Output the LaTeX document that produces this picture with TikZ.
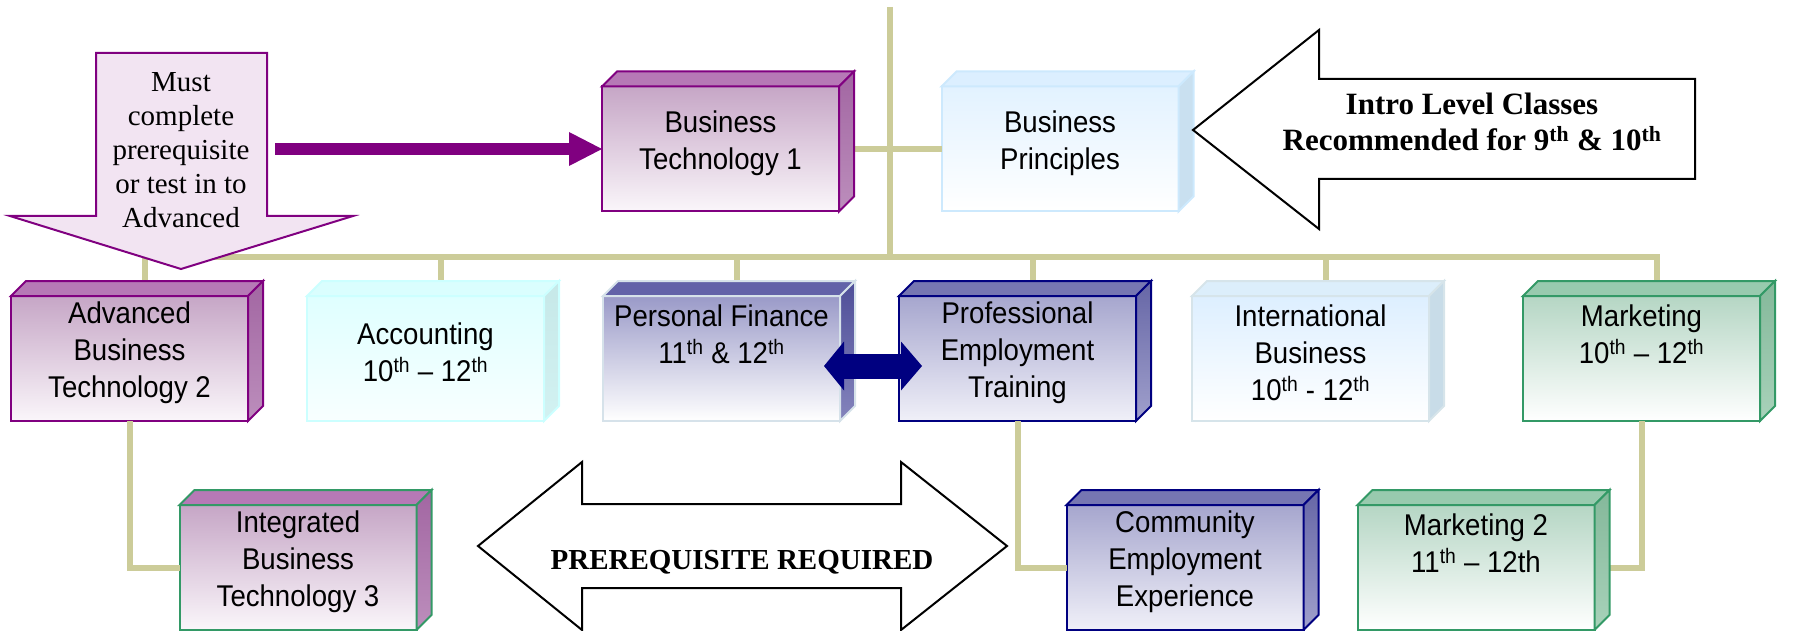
\documentclass[tikz,border=0pt]{standalone}
\usepackage{fontspec}
\usepackage{xcolor}
\usepackage{tikz}
\usetikzlibrary{arrows.meta}

\newfontfamily\cubefont[FakeStretch=0.92]{Liberation Sans}
\newfontfamily\notefont{Liberation Serif}

\definecolor{trunkline}{HTML}{CCCC99}
\definecolor{plumedge}{HTML}{800080}
\definecolor{plumfront}{HTML}{C6A6C6}
\definecolor{plumback}{HTML}{FAF6FA}
\definecolor{plumtop}{HTML}{B679B6}
\definecolor{plumside}{HTML}{A266A2}
\definecolor{plumsidelow}{HTML}{BC8EBC}
\definecolor{aquaedge}{HTML}{CCFFFF}
\definecolor{aquafront}{HTML}{DFFFFF}
\definecolor{aquaback}{HTML}{F8FFFF}
\definecolor{aquatop}{HTML}{DAFEFE}
\definecolor{aquaside}{HTML}{C6E8E8}
\definecolor{aquasidelow}{HTML}{D2F2F2}
\definecolor{skyedge}{HTML}{CDE9FD}
\definecolor{skyfront}{HTML}{E2F2FF}
\definecolor{skytop}{HTML}{DCEFFF}
\definecolor{skyside}{HTML}{C9E0F0}
\definecolor{iceedge}{HTML}{D6E4EA}
\definecolor{icefront}{HTML}{DDEFFF}
\definecolor{icetop}{HTML}{DCEEFB}
\definecolor{iceside}{HTML}{C8DCE8}
\definecolor{slateedge}{HTML}{D6E2EA}
\definecolor{slatefront}{HTML}{9A9AC8}
\definecolor{slatetop}{HTML}{6262A8}
\definecolor{slateside}{HTML}{4E4E98}
\definecolor{slatesidelow}{HTML}{8484BC}
\definecolor{navyedge}{HTML}{000080}
\definecolor{navyfront}{HTML}{A6A6CE}
\definecolor{navyback}{HTML}{F0F0F8}
\definecolor{navytop}{HTML}{7676B2}
\definecolor{navyside}{HTML}{6666A6}
\definecolor{navysidelow}{HTML}{A0A0CC}
\definecolor{greenedge}{HTML}{339966}
\definecolor{greenfront}{HTML}{B5D6C4}
\definecolor{greentop}{HTML}{98CAAE}
\definecolor{greenside}{HTML}{84B89A}
\definecolor{greensidelow}{HTML}{A8D2BA}
\definecolor{mustlight}{HTML}{F2E4F2}
\definecolor{mustmid}{HTML}{DFC7DF}

% top and right faces of a box: node, top, side, side low, edge
\newcommand{\cubefaces}[5]{%
  \filldraw[draw=#5,fill=#2,line width=2pt] (#1.north west) -- ([xshift=15pt,yshift=15pt]#1.north west)
    -- ([xshift=15pt,yshift=15pt]#1.north east) -- (#1.north east) -- cycle;
  \draw[draw=#5,top color=#3,bottom color=#4,line width=2pt] (#1.north east) -- ([xshift=15pt,yshift=15pt]#1.north east)
    -- ([xshift=15pt,yshift=15pt]#1.south east) -- (#1.south east) -- cycle;
}

\begin{document}
\begin{tikzpicture}[x=1pt,y=-1pt,
    cube/.style={minimum width=237pt,minimum height=125pt,inner sep=0pt,outer sep=0pt,line width=2pt},
    cubetext/.style={font=\cubefont\fontsize{30}{37}\selectfont,align=center,yshift=6pt},
    plumcube/.style={cube,draw=plumedge,top color=plumfront,bottom color=plumback},
    aquacube/.style={cube,draw=aquaedge,top color=aquafront,bottom color=aquaback},
    skycube/.style={cube,draw=skyedge,top color=skyfront,bottom color=white},
    icecube/.style={cube,draw=iceedge,top color=icefront,bottom color=white},
    slatecube/.style={cube,draw=slateedge,top color=slatefront,bottom color=white},
    navycube/.style={cube,draw=navyedge,top color=navyfront,bottom color=navyback},
    greencube/.style={cube,draw=greenedge,top color=greenfront,bottom color=white},
    trunk/.style={draw=trunkline,line width=6pt},
    notetext/.style={font=\notefont\fontsize{29}{34}\selectfont,align=center},
    calltext/.style={font=\notefont\bfseries\fontsize{31}{36}\selectfont,align=center},
    callout/.style={draw=black,fill=white,line width=2pt},
  ]
    \useasboundingbox (0,0) rectangle (1793,631);
    % Intro level
    \node[plumcube,label={[cubetext]center:Business\\Technology 1}] (bt1) at (720.5,149) {};
    \node[skycube,label={[cubetext]center:Business\\Principles}] (bp) at (1060,149) {};
    % Second row
    \node[plumcube,label={[cubetext]center:Advanced\\Business\\Technology 2}] (abt2) at (129.5,358.5) {};
    \node[aquacube,label={[cubetext]center:Accounting\\10\textsuperscript{th} \textendash{} 12\textsuperscript{th}}] (acct) at (425.5,358.5) {};
    \node[slatecube,label={[cubetext]center:Personal Finance\\11\textsuperscript{th} \& 12\textsuperscript{th}\\~}] (pfin) at (721.5,358.5) {};
    \node[navycube,label={[cubetext]center:Professional\\Employment\\Training}] (pet) at (1017.5,358.5) {};
    \node[icecube,label={[cubetext]center:International\\Business\\10\textsuperscript{th} - 12\textsuperscript{th}}] (intl) at (1310.5,358.5) {};
    \node[greencube,label={[cubetext]center:Marketing\\10\textsuperscript{th} \textendash{} 12\textsuperscript{th}\\~}] (mkt) at (1641.5,358.5) {};
    % Third row
    \node[plumcube,draw=greenedge,label={[cubetext]center:Integrated\\Business\\Technology 3}] (ibt3) at (298,567.5) {};
    \node[navycube,label={[cubetext]center:Community\\Employment\\Experience}] (cee) at (1185,567.5) {};
    \node[greencube,label={[cubetext]center:Marketing 2\\11\textsuperscript{th} \textendash{} 12th\\~}] (mkt2) at (1476,567.5) {};
    % Lines
    \coordinate (trunktop) at (890,7);
    \coordinate (bar) at (890,257);
    \draw[trunk] (trunktop) -- (bar);
    \foreach \n in {abt2,acct,pfin,pet,intl,mkt}
      \draw[trunk] ([xshift=15pt,yshift=15pt]\n.north) |- (bar);
    \draw[trunk] (bt1.east) -- (bp.west);
    \draw[trunk] (abt2.south) |- (ibt3.west);
    \draw[trunk] (pet.south) |- (cee.west);
    \draw[trunk] (mkt.south) |- (mkt2.east);
    % Faces
    \foreach \n/\t/\s/\l/\e in {bt1/plumtop/plumside/plumsidelow/plumedge,
        bp/skytop/skyside/skyside/skyedge,
        abt2/plumtop/plumside/plumsidelow/plumedge,
        acct/aquatop/aquaside/aquasidelow/aquaedge,
        pfin/slatetop/slateside/slatesidelow/slateedge,
        pet/navytop/navyside/navysidelow/navyedge,
        intl/icetop/iceside/iceside/iceedge,
        mkt/greentop/greenside/greensidelow/greenedge,
        ibt3/plumtop/plumside/plumsidelow/greenedge,
        cee/navytop/navyside/navysidelow/navyedge,
        mkt2/greentop/greenside/greensidelow/greenedge}
      \cubefaces{\n}{\t}{\s}{\l}{\e};
    % Must complete arrow
    \draw[draw=plumedge,line width=2pt,top color=mustlight,middle color=mustmid,bottom color=mustlight]
      (96,53) -- (267,53) -- (267,216) -- (353,216) -- (181,269) -- (10,216) -- (96,216) -- cycle;
    \node[notetext] (must) at (181,150) {Must\\complete\\prerequisite\\or test in to\\Advanced};
    \coordinate (techstart) at (275,149);
    \draw[draw=plumedge,line width=12pt,-{Triangle[width=34pt,length=33pt,line width=0pt]}] (techstart) -- (bt1.west);
    % Intro arrow
    \draw[callout] (1193,130) -- (1319,30) -- (1319,79) -- (1695,79) -- (1695,179) -- (1319,179) -- (1319,229) -- cycle;
    \node[calltext] (intro) at (1472,122) {Intro Level Classes\\Recommended for 9\textsuperscript{th} \& 10\textsuperscript{th}};
    % Prerequisite arrow
    \draw[callout] (478,546) -- (582,462) -- (582,504) -- (901,504) -- (901,462) -- (1007,546)
      -- (901,630) -- (901,588) -- (582,588) -- (582,630) -- cycle;
    \node[calltext,font=\notefont\bfseries\fontsize{29}{34}\selectfont] (prereq) at (742,562) {PREREQUISITE REQUIRED};
    % Finance and training
    \draw[draw=navyedge,line width=25pt,{Triangle[width=49pt,length=20pt,line width=0pt]}-{Triangle[width=49pt,length=21pt,line width=0pt]}]
      ([xshift=-16pt,yshift=-7.5pt]pfin.east) -- ([xshift=23pt,yshift=-7.5pt]pet.west);
  \end{tikzpicture}
\end{document}
